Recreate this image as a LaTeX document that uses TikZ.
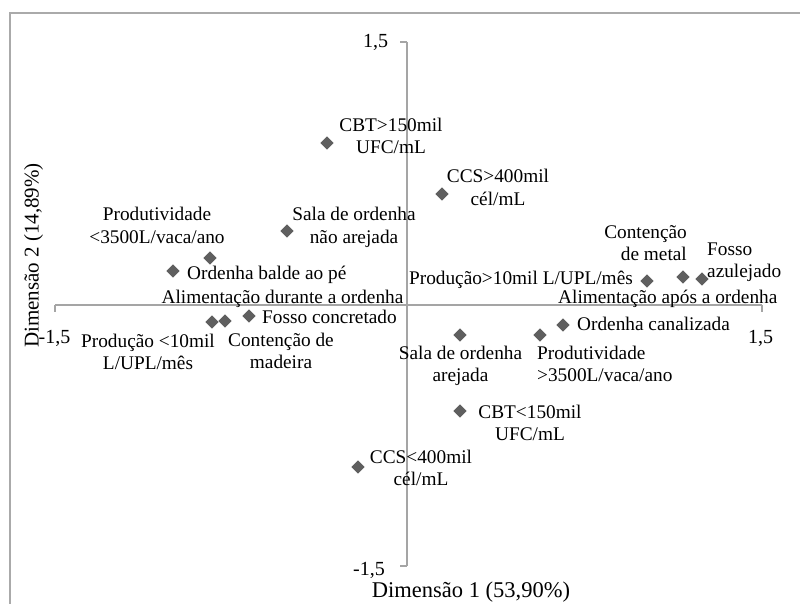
\documentclass[tikz,border=0pt]{standalone}
\usepackage{fontspec}
\setmainfont{Liberation Serif}
\usetikzlibrary{shapes.geometric}
\definecolor{ptgray}{RGB}{95,95,95}
\definecolor{axgray}{RGB}{165,165,165}
\definecolor{frgray}{RGB}{170,170,170}
\newcommand{\labc}[1]{\begin{tabular}[t]{@{}c@{}}#1\end{tabular}}
\newcommand{\labr}[1]{\begin{tabular}[t]{@{}r@{}}#1\end{tabular}}
\newcommand{\labl}[1]{\begin{tabular}[t]{@{}l@{}}#1\end{tabular}}
\begin{document}
\begin{tikzpicture}[x=1pt,y=-1pt,
  pt/.style={diamond, fill=ptgray, draw=none, minimum width=13.5pt, minimum height=13.5pt, inner sep=0pt},
  lbl/.style={font=\fontsize{19.3}{22}\selectfont, inner sep=0pt, anchor=base},
  tick/.style={font=\fontsize{20}{24}\selectfont, inner sep=0pt, anchor=base},
  ttl/.style={font=\fontsize{22.5}{26}\selectfont, inner sep=0pt, anchor=base},
  vttl/.style={font=\fontsize{21}{26}\selectfont, inner sep=0pt, anchor=base},
  axis/.style={draw=axgray, line width=1.1pt}]
\useasboundingbox (0,0) rectangle (800,604);
% frame
\draw[frgray, line width=1.3pt] (10,604) -- (10,13) -- (800,13);
% axes
\draw[axis] (55,305) -- (762,305);
\draw[axis] (55,305) -- (55,312);
\draw[axis] (762,305) -- (762,312);
\draw[axis] (407,42) -- (407,566);
\draw[axis] (400,42) -- (407,42);
\draw[axis] (400,566) -- (407,566);
% tick labels
\node[tick] (ty1) at (375.5,48) {1,5};
\node[tick] (ty2) at (369,575) {-1,5};
\node[tick] (tx1) at (54.5,343) {-1,5};
\node[tick] (tx2) at (760.5,343) {1,5};
% axis titles
\node[ttl] (xt) at (471,597) {Dimensão 1 (53,90\%)};
\node[vttl, rotate=90] (yt) at (38.5,255.5) {Dimensão 2 (14,89\%)};
% points
\node[pt] (p1) at (327,143) {};
\node[pt] (p2) at (442,194) {};
\node[pt] (p3) at (287,231) {};
\node[pt] (p4) at (210,258) {};
\node[pt] (p5) at (173,271) {};
\node[pt] (p6) at (212,322) {};
\node[pt] (p7) at (225,321) {};
\node[pt] (p8) at (249,316) {};
\node[pt] (p9) at (647,281) {};
\node[pt] (p10) at (683,277) {};
\node[pt] (p11) at (702,279) {};
\node[pt] (p12) at (563,325) {};
\node[pt] (p13) at (460,335) {};
\node[pt] (p14) at (540,335) {};
\node[pt] (p15) at (460,411) {};
\node[pt] (p16) at (358,467) {};
% labels
\node[lbl] (l1) at (391,132) {\labc{CBT>150mil\\UFC/mL}};
\node[lbl] (l2) at (498,183) {\labc{CCS>400mil\\cél/mL}};
\node[lbl] (l3) at (354,221) {\labc{Sala de ordenha\\não arejada}};
\node[lbl] (l4) at (157,221) {\labc{Produtividade\\<3500L/vaca/ano}};
\node[lbl, anchor=base west] (l5) at (187,279) {Ordenha balde ao pé};
\node[lbl] (l6) at (282.5,303) {Alimentação durante a ordenha};
\node[lbl, anchor=base west] (l7) at (262,323) {Fosso concretado};
\node[lbl] (l8) at (148,347) {\labc{Produção <10mil\\L/UPL/mês}};
\node[lbl] (l9) at (281,346) {\labc{Contenção de\\madeira}};
\node[lbl, anchor=base east] (l10) at (633,284) {Produção>10mil L/UPL/mês};
\node[lbl, anchor=base east] (l11) at (687,238) {\labr{Contenção\\de metal}};
\node[lbl, anchor=base west] (l12) at (707,255) {\labl{Fosso\\azulejado}};
\node[lbl, anchor=base west] (l13) at (558,303) {Alimentação após a ordenha};
\node[lbl, anchor=base west] (l14) at (577,330) {Ordenha canalizada};
\node[lbl] (l15) at (460.5,359) {\labc{Sala de ordenha\\arejada}};
\node[lbl, anchor=base west] (l16) at (537,359) {\labl{Produtividade\\>3500L/vaca/ano}};
\node[lbl] (l17) at (530,418) {\labc{CBT<150mil\\UFC/mL}};
\node[lbl] (l18) at (421,463) {\labc{CCS<400mil\\cél/mL}};
\end{tikzpicture}
\end{document}
